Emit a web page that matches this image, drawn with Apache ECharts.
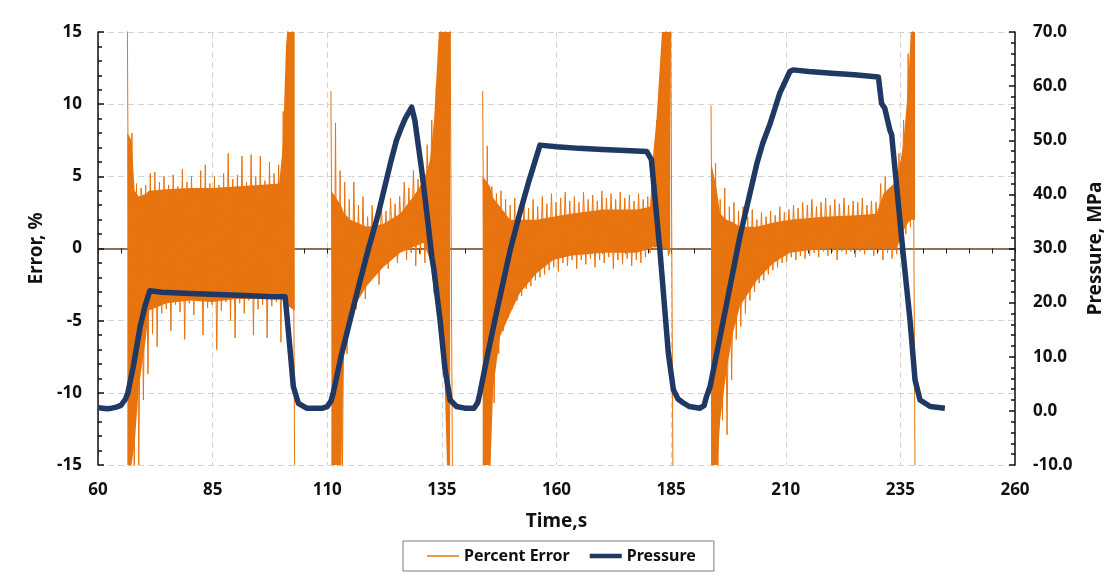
<!DOCTYPE html>
<html>
<head>
<meta charset="utf-8">
<script src="https://cdn.jsdelivr.net/npm/echarts@6/dist/echarts.min.js"></script>
<style>
  html, body { margin: 0; padding: 0; background: #fff; }
  #chart { width: 1104px; height: 577px; }
</style>
</head>
<body>
<div id="chart"></div>
<script>
// percent error, solid core of each burst: [time, low edge, high edge]
var seg1Core = [[66.4, -16, 8], [67.3, -15, 7.5], [68.0, -13.5, 4.0], [68.9, -9.6, 3.6], [70.4, -6.3, 3.8], [71.1, -4.3, 4.0],
  [75, -3.8, 4.1], [80, -3.6, 4.2], [85, -3.7, 4.2], [90, -3.5, 4.3], [95, -3.5, 4.4], [99.5, -3.4, 4.5],
  [100.3, -3.5, 7], [101.0, -3.8, 14], [101.5, -4.0, 16], [102.9, -4.3, 16]];
var seg2Core = [[110.9, -16, 4.0], [113.0, -16, 3.0], [113.6, -7, 2.5], [115, -4.5, 2.0], [118.6, -2.6, 1.5], [122.2, -1.3, 1.7],
  [125.9, -0.3, 2.4], [128.8, 0.1, 3.6], [131, 0.4, 4.7], [132.4, -0.8, 6.1], [133.3, -2.9, 8.9], [134.0, -4, 13],
  [134.5, -5, 16], [135.5, -8, 16], [136.2, -16, 16], [136.8, -16, 16]];
var seg3Core = [[143.9, -16, 5], [145.5, -16, 4.3], [146.2, -9.6, 3.5], [147.7, -6.1, 2.9], [149.9, -4.5, 2.0], [152, -3.1, 2.0],
  [155.7, -1.7, 2.0], [159.3, -0.8, 2.2], [163, -0.5, 2.4], [170.2, -0.3, 2.7], [177.5, -0.3, 2.7], [180.4, 0, 2.9],
  [181.1, 0.1, 6.6], [181.8, 0.1, 8.9], [183.2, 0, 16], [184.3, 0, 16], [184.8, -0.5, 16]];
var seg4Core = [[193.7, -16, 6], [194.9, -16, 4.2], [195.7, -11.9, 2.4], [197.1, -8.4, 2.0], [198.6, -5.7, 1.8], [200, -4.0, 1.5],
  [203.7, -2.2, 1.5], [207.3, -1.0, 1.8], [210.9, -0.3, 2.0], [218.2, 0, 2.2], [225.5, 0, 2.3], [229.8, 0, 2.4],
  [231.3, 0, 3.8], [234.2, 0, 4.7], [235.6, 1.2, 7.1], [236.7, 1.8, 11.2], [237.4, 2.0, 16], [238.2, 2.0, 16]];

// percent error spikes: peak (hi) and trough (lo) read every second, per burst
var seg1Start = 66.4;
var seg1Hi = [16, 8.0, 4.5, 4.2, 4.4, 5.2, 5.3, 4.6, 5.0, 4.4, 5.1, 4.3, 5.5, 4.6, 5.0, 4.2, 5.4, 5.8, 4.5, 5.0,
  4.4, 5.2, 6.6, 4.8, 5.1, 6.4, 4.6, 6.5, 5.0, 6.4, 4.7, 6.0, 5.2, 5.8, 9.5, 16, 16];
var seg1Lo = [-16, -16, -15, -10.5, -8.7, -5.9, -6.8, -4.5, -4.2, -5.7, -3.9, -4.4, -6.3, -3.8, -4.6, -3.6, -6.0, -4.1, -3.9, -7.0,
  -4.3, -3.7, -5.0, -6.2, -3.8, -4.5, -3.6, -6.0, -4.2, -3.9, -6.2, -4.0, -3.7, -6.5, -4.5, -4.0, -16];

var seg2Start = 110.8;
var seg2Hi = [10.9, 8.7, 5.4, 4.6, 3.4, 4.6, 3.0, 3.6, 2.2, 3.0, 2.4, 3.2, 2.6, 3.5, 3.1, 3.6, 4.6, 4.2, 5.4, 4.8,
  6.1, 7.2, 8.9, 11.2, 16, 16, 16];
var seg2Lo = [-16, -16, -16, -7.3, -5.0, -4.2, -3.1, -3.5, -2.2, -1.8, -2.5, -0.8, -1.4, -0.5, -1.0, -0.1, -0.8, -0.3, -1.2, -0.4,
  -1.0, -0.5, -3.1, -3.5, -5.0, -16, -16];

var seg3Start = 143.9;
var seg3Hi = [10.9, 7.1, 4.3, 3.8, 4.0, 3.4, 3.0, 3.5, 2.9, 3.3, 2.8, 3.4, 2.9, 3.6, 3.1, 3.8, 3.2, 3.5, 3.9, 3.3,
  3.6, 3.2, 3.9, 3.4, 3.7, 3.3, 4.0, 3.5, 3.8, 3.4, 3.9, 3.5, 3.7, 3.3, 3.8, 3.4, 3.6, 5.7, 8.9, 13, 16, 16];
var seg3Lo = [-16, -16, -10.7, -7.3, -5.7, -4.8, -4.2, -3.6, -3.3, -2.8, -2.6, -2.2, -2.0, -1.8, -1.5, -1.3, -1.6, -1.0, -1.2, -0.8,
  -1.4, -0.8, -1.1, -0.7, -1.3, -0.8, -1.0, -0.6, -1.4, -0.8, -1.1, -0.7, -1.2, -0.8, -1.0, -0.6, -0.3, 0.0, 0.2, 0.0, -0.5, -16];

var seg4Start = 193.7;
var seg4Hi = [9.9, 5.9, 3.4, 4.2, 2.9, 3.2, 2.6, 2.9, 2.2, 2.7, 2.0, 2.5, 2.2, 2.6, 2.3, 2.9, 2.5, 2.7, 3.0, 2.8,
  3.2, 3.0, 3.4, 2.9, 3.2, 3.5, 3.0, 3.4, 3.1, 3.5, 3.0, 3.3, 3.2, 3.5, 3.0, 3.3, 3.2, 4.5, 5.0, 4.2,
  4.7, 6.6, 8.9, 13.5, 16];
var seg4Lo = [-16, -16, -11.9, -12.9, -9.1, -6.3, -5.4, -4.5, -3.6, -3.0, -2.4, -2.2, -1.8, -1.5, -1.3, -1.0, -0.9, -0.6, -0.8, -0.5,
  -0.7, -0.5, -0.3, -0.6, -0.2, -0.5, -0.2, -0.8, -0.2, -0.4, -0.2, -0.6, -0.2, -0.4, -0.1, -0.5, -0.2, -0.8, -0.3, -0.7,
  -0.4, 0.5, 1.0, 1.5, -16];

// pressure, MPa
var presTime = [60, 61, 62, 63, 64, 65, 66, 66.5, 67.7, 69.2, 70.3, 71.3, 74, 80, 86, 92, 98, 100.8, 101.1, 101.9,
  102.6, 103.7, 105.5, 107, 109, 110, 110.8, 111.3, 113, 115, 117, 119, 121, 122, 123, 124, 125.1, 126, 127, 128.4,
  129.1, 130.6, 132, 132.8, 133.2, 134.6, 135.7, 136.8, 138.2, 140, 142, 142.8, 143.3, 145, 147, 149.9, 152, 154, 156.4, 160,
  165, 170, 175, 179.7, 180.7, 182.6, 184.4, 185.5, 186.5, 187.6, 189, 191.3, 192.2, 192.7, 193.5, 196.4, 200, 203.7, 205, 206.6,
  208.7, 210.9, 211.6, 215, 220, 225, 230.2, 230.9, 231.6, 232.7, 233.1, 234.2, 235.6, 237.1, 238.2, 239.3, 241.5, 244.7];
var presValue = [0.6, 0.5, 0.4, 0.5, 0.7, 1.0, 2.2, 3.3, 8.2, 15.6, 19.5, 22.2, 21.9, 21.7, 21.5, 21.3, 21.1, 21.1, 18.6, 11.2,
  4.5, 1.4, 0.5, 0.5, 0.5, 0.8, 1.8, 3.3, 10.0, 16.8, 23.5, 30.0, 36.0, 39.5, 43.0, 46.5, 50.0, 52.0, 54.0, 56.1,
  53.7, 44.5, 34.5, 28.5, 26.5, 16.8, 7.6, 2.0, 0.8, 0.5, 0.5, 1.5, 3.3, 10.5, 18.5, 29.7, 36.5, 42.5, 49.1, 48.8,
  48.5, 48.3, 48.1, 47.9, 46.4, 29.2, 10.6, 3.9, 2.2, 1.5, 0.8, 0.5, 1.0, 2.6, 4.5, 16.8, 32.2, 45.7, 49.5, 53.1,
  58.7, 62.7, 63.0, 62.7, 62.4, 62.1, 61.7, 56.8, 55.9, 51.9, 51.0, 41.4, 29.1, 16.8, 5.7, 2.0, 0.8, 0.5];

var xTicks = [60, 260, 25];
var errTicks = [-15, 15, 5];
var presTicks = [-10, 70, 10];

var ORANGE = '#e8740f';
var NAVY = '#1f3864';
var FONT = 'Noto Sans';

function zigzag(start, hi, lo) {
  var out = [];
  for (var i = 0; i < hi.length; i++) {
    out.push([start + i, hi[i]]);
    out.push([start + i + 0.5, lo[i]]);
  }
  return out;
}

// filled band for the core of one burst, drawn through the axes' own scales
function coreSeries(core) {
  return {
    name: 'Percent Error',
    type: 'custom',
    xAxisIndex: 0,
    yAxisIndex: 0,
    clip: true,
    data: [[core[0][0], core[0][1]]],
    encode: { x: 0, y: 1 },
    renderItem: function (params, api) {
      var pts = [];
      core.forEach(function (c) { pts.push(api.coord([c[0], c[2]])); });
      for (var i = core.length - 1; i >= 0; i--) pts.push(api.coord([core[i][0], core[i][1]]));
      return { type: 'polygon', shape: { points: pts }, style: { fill: ORANGE } };
    }
  };
}

var spikeSeries = [
  zigzag(seg1Start, seg1Hi, seg1Lo),
  zigzag(seg2Start, seg2Hi, seg2Lo),
  zigzag(seg3Start, seg3Hi, seg3Lo),
  zigzag(seg4Start, seg4Hi, seg4Lo)
].map(function (d) {
  return {
    name: 'Percent Error',
    type: 'line',
    xAxisIndex: 0,
    yAxisIndex: 0,
    symbol: 'none',
    data: d,
    lineStyle: { color: ORANGE, width: 1 },
    itemStyle: { color: ORANGE }
  };
});

var series = spikeSeries.concat([seg1Core, seg2Core, seg3Core, seg4Core].map(coreSeries));
series.push({
  name: 'Pressure',
  type: 'line',
  xAxisIndex: 0,
  yAxisIndex: 1,
  symbol: 'none',
  data: presTime.map(function (t, i) { return [t, presValue[i]]; }),
  lineStyle: { color: NAVY, width: 5.5, join: 'round' },
  itemStyle: { color: NAVY }
});

var labelStyle = { color: '#111', fontFamily: FONT, fontWeight: 'bold', fontSize: 17 };
var nameStyle = { color: '#111', fontFamily: FONT, fontWeight: 'bold', fontSize: 19 };
var gridDash = { show: true, lineStyle: { color: '#d4d4d4', type: [6, 4], width: 1 } };

var option = {
  animation: false,
  backgroundColor: '#fff',
  grid: { left: 98, right: 89, top: 32, bottom: 112, outerBoundsMode: 'none', containLabel: false },
  legend: {
    data: [
      { name: 'Percent Error', icon: 'path://M0 0H32V1.5H0Z' },
      { name: 'Pressure', icon: 'path://M0 0H32V4.5H0Z' }
    ],
    left: 403,
    top: 541,
    padding: [7, 18, 7, 24],
    itemGap: 20,
    itemWidth: 32,
    itemHeight: 10,
    borderColor: '#7f7f7f',
    borderWidth: 1,
    textStyle: { color: '#111', fontFamily: FONT, fontWeight: 'bold', fontSize: 16 }
  },
  xAxis: [{
    type: 'value',
    min: xTicks[0], max: xTicks[1], interval: xTicks[2],
    position: 'bottom',
    axisLine: { show: true, onZero: true, onZeroAxisIndex: 0, lineStyle: { color: '#6b4a2e', width: 1.5 } },
    axisTick: { show: true, length: 5, lineStyle: { color: '#222' } },
    minorTick: { show: true, splitNumber: 5, length: 5, lineStyle: { color: '#222' } },
    axisLabel: { show: false },
    splitLine: gridDash
  }, {
    type: 'value',
    min: xTicks[0], max: xTicks[1], interval: xTicks[2],
    position: 'bottom',
    axisLine: { show: false },
    axisTick: { show: false },
    axisLabel: Object.assign({ margin: 17 }, labelStyle),
    splitLine: { show: false },
    name: 'Time,s',
    nameLocation: 'middle',
    nameGap: 47,
    nameTextStyle: nameStyle
  }],
  yAxis: [{
    type: 'value',
    min: errTicks[0], max: errTicks[1], interval: errTicks[2],
    position: 'left',
    axisLine: { show: true, onZero: false, lineStyle: { color: '#111', width: 1.5 } },
    axisTick: { show: true, inside: true, length: 6, lineStyle: { color: '#111', width: 1.5 } },
    minorTick: { show: true, splitNumber: 5, length: 4, lineStyle: { color: '#111', width: 1.5 } },
    axisLabel: Object.assign({ margin: 16 }, labelStyle),
    splitLine: gridDash,
    name: 'Error, %',
    nameLocation: 'middle',
    nameRotate: 90,
    nameGap: 52,
    nameTextStyle: nameStyle
  }, {
    type: 'value',
    min: presTicks[0], max: presTicks[1], interval: presTicks[2],
    position: 'right',
    axisLine: { show: true, onZero: false, lineStyle: { color: '#111', width: 1.5 } },
    axisTick: { show: true, inside: true, length: 6, lineStyle: { color: '#111', width: 1.5 } },
    minorTick: { show: true, splitNumber: 5, length: 4, lineStyle: { color: '#111', width: 1.5 } },
    axisLabel: Object.assign({ margin: 18, formatter: function (v) { return v.toFixed(1); } }, labelStyle),
    splitLine: { show: false },
    name: 'Pressure, MPa',
    nameLocation: 'middle',
    nameRotate: 90,
    nameGap: 71,
    nameTextStyle: nameStyle
  }],
  series: series
};

var chart = echarts.init(document.getElementById('chart'));
chart.setOption(option);
</script>
</body>
</html>
